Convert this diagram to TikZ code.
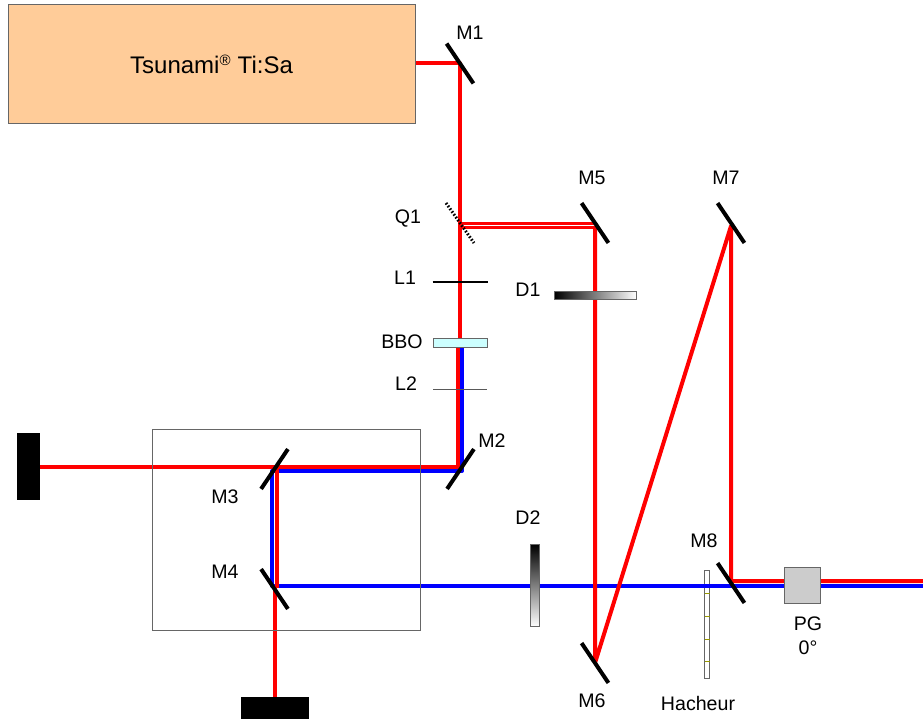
\documentclass[tikz,border=0pt]{standalone}
\usepackage{fontspec}
\setmainfont{Liberation Sans}
\usetikzlibrary{backgrounds}
\definecolor{laserfill}{HTML}{FFCC99}
\definecolor{framegray}{HTML}{666666}
\definecolor{bbofill}{HTML}{CCFFFF}
\definecolor{pgfill}{HTML}{CCCCCC}
\definecolor{tickcol}{HTML}{999900}
\begin{document}
\begin{tikzpicture}[x=1pt,y=-1pt,
  every node/.append style={inner sep=0pt,outer sep=0pt},
  mirror/.style={fill=black,minimum width=48pt,minimum height=4pt},
  lbl/.style={font=\fontsize{19.6}{21}\selectfont,text=black},
  redb/.style={draw=red,line width=4pt,line join=round},
  blueb/.style={draw=blue,line width=4pt,line join=round},
  optic/.style={draw=framegray,line width=1pt},
  dump/.style={fill=black}]
\useasboundingbox (0,0) rectangle (923,719);
% components
\node[optic,fill=laserfill,minimum width=407pt,minimum height=119pt,
  font=\fontsize{24}{26}\selectfont] (laser) at (211.5,64) {Tsunami\textsuperscript{\raisebox{-0.1ex}{\fontsize{15}{15}\selectfont®}} Ti:Sa};
\node[mirror,rotate=-56] (M1) at (460,63.5) {};
\node[mirror,rotate=-56] (M5) at (595,223) {};
\node[mirror,rotate=-56] (M7) at (731,223) {};
\node[mirror,rotate=-56] (M6) at (595,663) {};
\node[mirror,rotate=-56] (M8) at (731,583) {};
\node[mirror,rotate=56] (M2) at (460.5,469) {};
\node[mirror,rotate=56] (M3) at (274.5,469) {};
\node[mirror,rotate=-56] (M4) at (274.5,589) {};
\coordinate (Q1a) at (446,203);
\coordinate (Q1b) at (474,243);
\coordinate (L1a) at (432.5,282);
\coordinate (L1b) at (487.5,282);
\coordinate (L2a) at (433,389);
\coordinate (L2b) at (487,389);
\coordinate (dblAa) at (460,223.5);
\coordinate (dblAb) at (595,223.5);
\coordinate (dblBa) at (460,227.5);
\coordinate (dblBb) at (595,227.5);
\coordinate (rA) at (458,347);
\coordinate (rB) at (458,467);
\coordinate (rC) at (40,467);
\coordinate (rD) at (277,467);
\coordinate (rE) at (277,588);
\coordinate (rF) at (275,586);
\coordinate (rG) at (275,697);
\coordinate (bA) at (462,347);
\coordinate (bB) at (462,471);
\coordinate (bC) at (272,471);
\coordinate (bD) at (272,586);
\coordinate (out1) at (923,581);
\coordinate (out2) at (923,586);
\coordinate (M7foot) at (731,581);
\coordinate (M5top) at (595,226);
\coordinate (M7top) at (731,226);
\node[optic,fill=bbofill,minimum width=54pt,minimum height=9pt] (BBO) at (460,343) {};
\node[optic,left color=black,right color=white,minimum width=82pt,minimum height=8pt] (D1) at (595.5,295) {};
\node[optic,top color=black,bottom color=white,minimum width=9pt,minimum height=82pt] (D2) at (534.5,585.5) {};
\node[draw=framegray,line width=1pt,fill=pgfill,minimum width=36pt,minimum height=36pt] (PG) at (802,585) {};
\node[dump,minimum width=23pt,minimum height=67pt] (dumpL) at (28.5,466.5) {};
\node[dump,minimum width=68pt,minimum height=22pt] (dumpB) at (275,708) {};
% beams
\begin{scope}[on background layer]
  \node[optic,fill=white,minimum width=5.5pt,minimum height=108pt] (H) at (707,624) {};
  \foreach \yy in {593,616,639,661} \draw[tickcol,line width=1pt] (704.5,\yy) -- (709.5,\yy);
  \draw[blueb] (bA) -- (bB) -- (bC) -- (bD) -- (out2);
  \draw[redb] (laser.east |- M1) -- (M1.center) -- (BBO.north);
  \draw[redb,line width=3.5pt] (dblAa) -- (dblAb);
  \draw[redb,line width=3.5pt] (dblBa) -- (dblBb);
  \draw[redb] (rA) -- (rB) -- (rC);
  \draw[redb] (rD) -- (rE);
  \draw[redb] (rF) -- (rG);
  \draw[redb] (M5top) -- (M6.center) -- (M7top) -- (M7foot) -- (out1);
\end{scope}
% thin parts
\draw[black,line width=3pt,dash pattern=on 1.6pt off 1.8pt] (Q1a) -- (Q1b);
\draw[black,line width=1.5pt] (L1a) -- (L1b);
\draw[black!65,line width=1pt] (L2a) -- (L2b);
\node[draw=framegray,line width=1pt,minimum width=268pt,minimum height=201pt] (frame) at (286,529.5) {};
% labels
\node[lbl] (tM1) at (470,33) {M1};
\node[lbl] (tM5) at (592,178) {M5};
\node[lbl] (tM7) at (726,178) {M7};
\node[lbl] (tQ1) at (408,219) {Q1};
\node[lbl] (tL1) at (405,278) {L1};
\node[lbl] (tD1) at (528,290) {D1};
\node[lbl] (tBBO) at (402,342) {BBO};
\node[lbl] (tL2) at (406,384) {L2};
\node[lbl] (tM2) at (492,441) {M2};
\node[lbl] (tM3) at (225,497) {M3};
\node[lbl] (tM4) at (225,572) {M4};
\node[lbl] (tD2) at (528,518) {D2};
\node[lbl] (tM8) at (704,541) {M8};
\node[lbl] (tPG) at (808,624) {PG};
\node[lbl] (t0) at (808,648) {0°};
\node[lbl] (tM6) at (592,701) {M6};
\node[lbl] (tH) at (698,703) {Hacheur};
\end{tikzpicture}
\end{document}
